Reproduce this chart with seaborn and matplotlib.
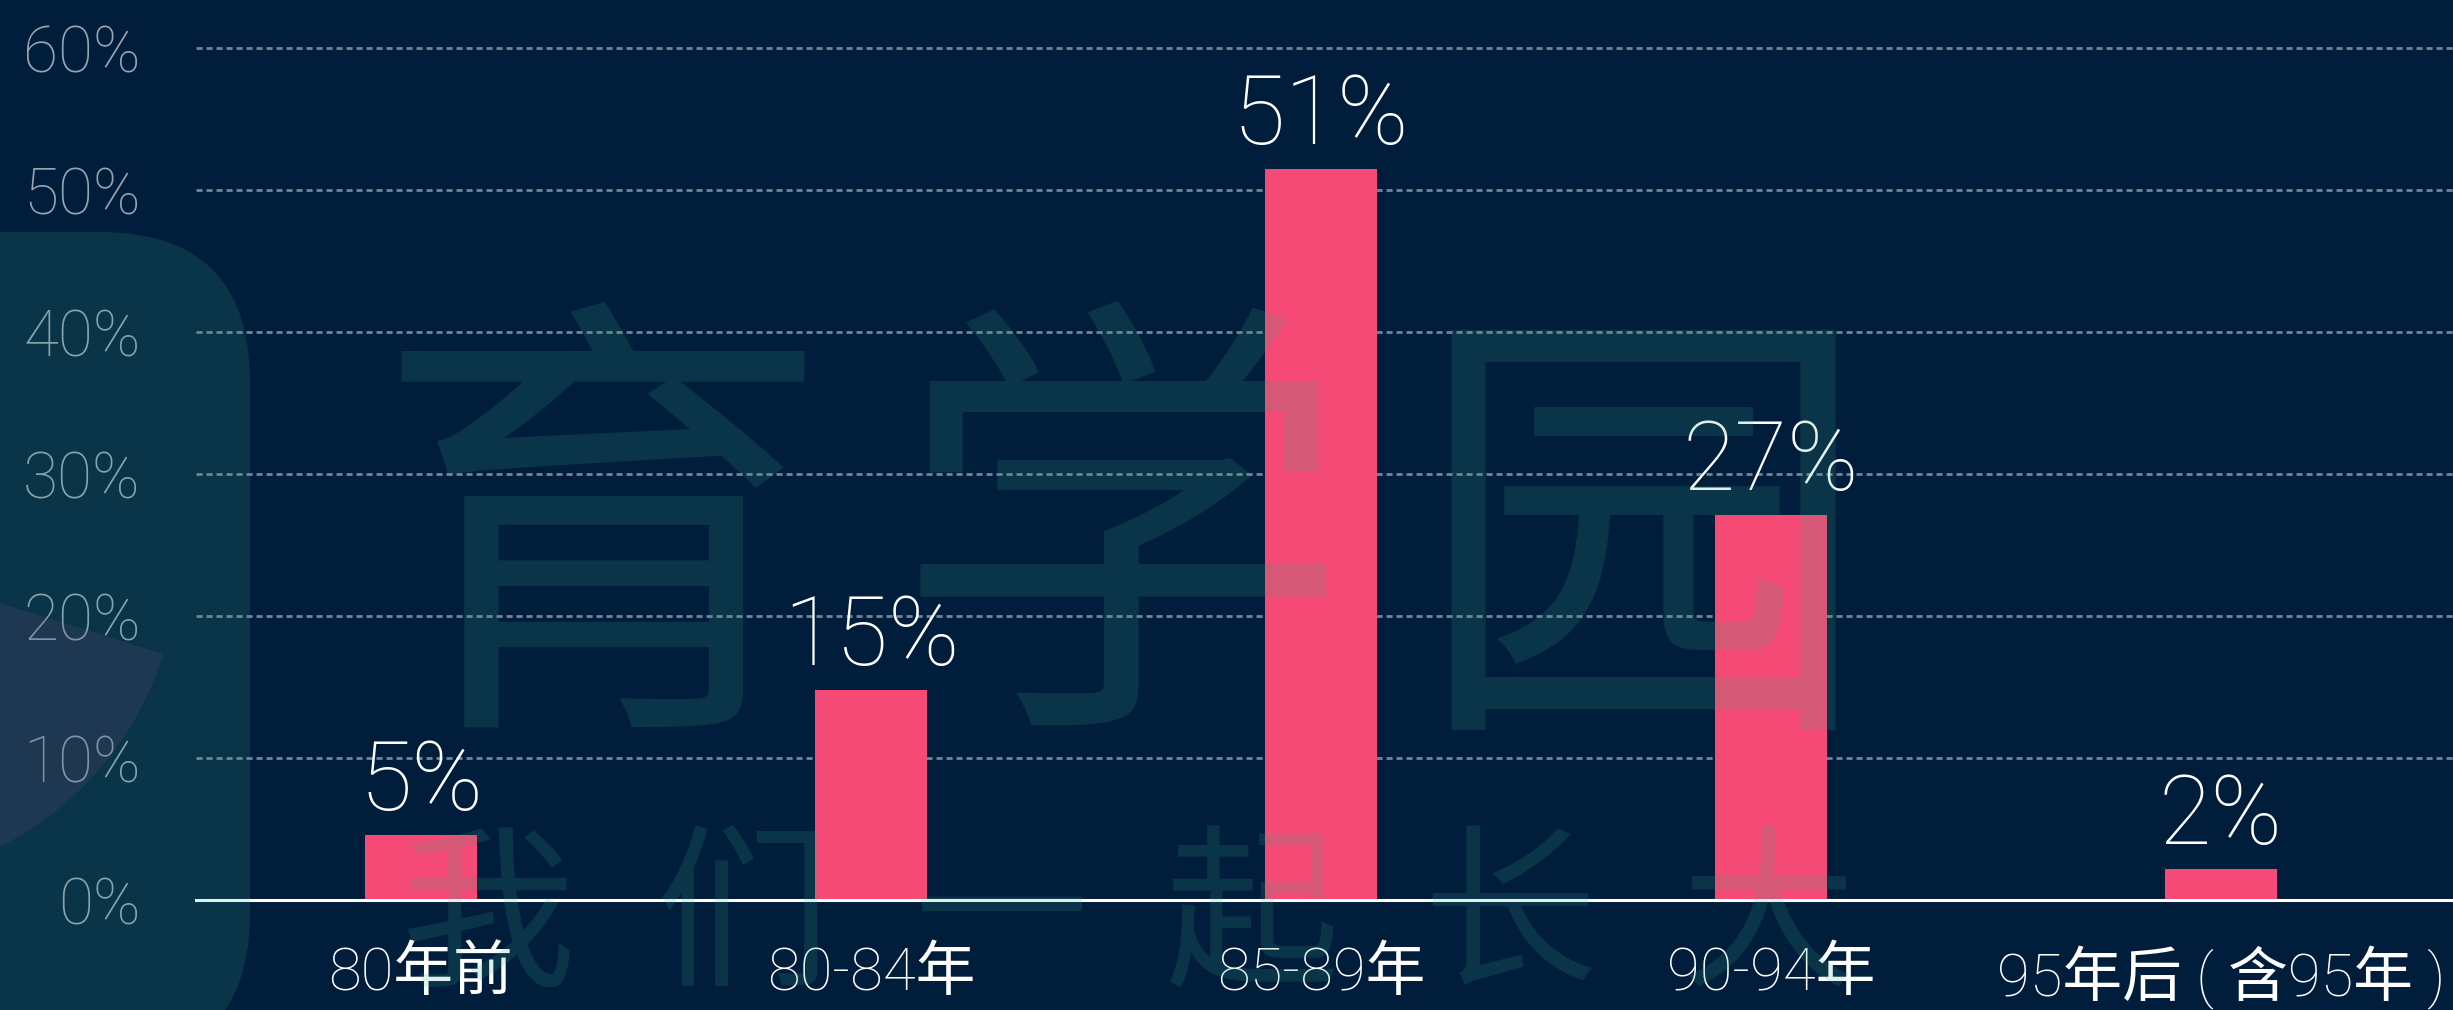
import numpy as np
import pandas as pd
import matplotlib
matplotlib.use("Agg")
import matplotlib.pyplot as plt
from matplotlib.patches import FancyBboxPatch, Wedge
import seaborn as sns

# data
categories = ["80年前", "80-84年", "85-89年", "90-94年", "95年后 ( 含95年 )"]
values = [4.6, 14.8, 51.5, 27.1, 2.2]
value_labels = ["5%", "15%", "51%", "27%", "2%"]
yticks = [0, 10, 20, 30, 40, 50, 60]
ytick_labels = ["0%", "10%", "20%", "30%", "40%", "50%", "60%"]

bg = "#001e3c"
bar_color = "#f54a75"
mark_color = "#3da586"
mark_alpha = 0.163

sns.set_theme(style="white")
plt.rcParams["font.family"] = ["Roboto", "Noto Sans CJK SC", "DejaVu Sans"]

df = pd.DataFrame({"cat": categories, "val": values})

fig = plt.figure(figsize=(24.53, 10.10), dpi=100, facecolor=bg)
W, H = 2453, 1010
ax = fig.add_axes([196 / W, 110 / H, (W - 196) / W, 852 / H])
ax.set_facecolor(bg)

sns.barplot(data=df, x="cat", y="val", color=bar_color, width=0.25,
            saturation=1, linewidth=0, edgecolor="none", ax=ax, zorder=2)

ax.set_xlim(-0.5, -0.5 + (W - 196) / 450)
ax.set_ylim(0, 60)
ax.set_yticks(yticks)
ax.set_yticklabels(ytick_labels)
ax.set_xlabel("")
ax.set_ylabel("")

for s in ["top", "right", "left"]:
    ax.spines[s].set_visible(False)
ax.spines["bottom"].set_color("white")
ax.spines["bottom"].set_linewidth(2.2)
ax.spines["bottom"].set_zorder(3)

ax.yaxis.grid(True, linestyle=(0, (2.2, 1.4)), color="white", alpha=0.45, lw=2)
ax.set_axisbelow(True)
for gl in ax.get_ygridlines():
    gl.set_clip_on(False)

ax.tick_params(axis="y", length=0, pad=40, labelsize=46,
               labelcolor=(1, 1, 1, 0.6))
ax.tick_params(axis="x", length=0, pad=33, labelsize=43, labelcolor="white")
for t in ax.get_yticklabels() + ax.get_xticklabels():
    t.set_fontweight("light")

ax.bar_label(ax.containers[0], labels=value_labels, padding=4,
             fontsize=69, color="white", fontweight="light")

# watermark layer on top
ov = fig.add_axes([0, 0, 1, 1], zorder=5)
ov.set_xlim(0, W)
ov.set_ylim(0, H)
ov.axis("off")
ov.patch.set_alpha(0)

ov.add_patch(FancyBboxPatch((-300, -53), 550, 831,
                            boxstyle="round,pad=0,rounding_size=150",
                            fc=mark_color, ec="none", alpha=mark_alpha))
ov.add_patch(Wedge((-145, 452), 323, -63.3, -17.3, fc="#734d7a",
                   ec="none", alpha=0.2))

for ch, x, y in zip("育学园", [602, 1122, 1643], [450, 450, 447]):
    ov.text(x, y, ch, fontsize=330, family="Noto Sans CJK SC",
            fontweight="medium", color=mark_color, alpha=mark_alpha,
            ha="center", va="center")
for ch, x in zip("我们一起长大", [488, 743, 1001, 1252, 1510, 1768]):
    ov.text(x, 88, ch, fontsize=126, family="Noto Sans CJK SC",
            color=mark_color, alpha=mark_alpha, ha="center", va="center")

fig.savefig("out.png", dpi=100, facecolor=bg)
